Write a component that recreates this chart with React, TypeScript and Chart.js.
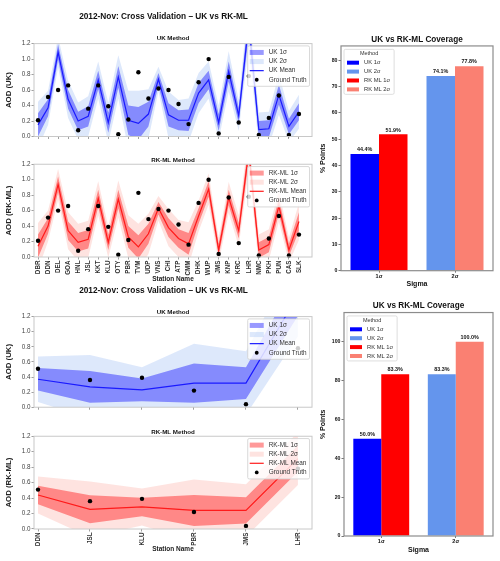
import React, { useEffect, useRef } from "react";
import { Chart, registerables } from "chart.js";

Chart.register(...registerables);

const FONT = "'Liberation Sans', Arial, Helvetica, sans-serif";

// ---------------- data ----------------
const suptitle = "2012-Nov: Cross Validation – UK vs RK-ML";

const stationsAll = ["DBR", "DDN", "DEL", "GOA", "HNL", "JSL", "KKT", "KLU", "OTY", "PBR", "TVM", "UDP", "VNS", "CHI", "ATP", "CMM", "DHK", "WUP", "JMS", "KNP", "KRC", "LHR", "NMC", "PKH", "PUN", "CAS", "SLK"];
const truthAll = [0.21, 0.51, 0.6, 0.66, 0.08, 0.36, 0.66, 0.39, 0.03, 0.22, 0.83, 0.49, 0.62, 0.6, 0.42, 0.16, 0.7, 1.0, 0.04, 0.77, 0.18, 0.78, 0.02, 0.24, 0.53, 0.02, 0.29];
const ukMeanAll = [0.15, 0.37, 1.09, 0.48, 0.2, 0.26, 0.73, 0.18, 0.77, 0.21, 0.17, 0.29, 0.74, 0.28, 0.21, 0.21, 0.56, 0.73, 0.18, 0.84, 0.27, 1.47, 0.09, 0.1, 0.54, 0.13, 0.32];
const ukSigmaAll = [0.15, 0.11, 0.1, 0.12, 0.12, 0.13, 0.12, 0.13, 0.14, 0.19, 0.21, 0.16, 0.08, 0.15, 0.13, 0.14, 0.13, 0.12, 0.11, 0.13, 0.1, 0.15, 0.11, 0.11, 0.13, 0.1, 0.11];
const rkMeanAll = [0.14, 0.4, 0.94, 0.34, 0.19, 0.23, 0.76, 0.19, 0.75, 0.26, 0.13, 0.3, 0.63, 0.38, 0.24, 0.17, 0.53, 0.88, 0.09, 0.77, 0.34, 1.37, 0.09, 0.16, 0.66, 0.09, 0.46];
const rkSigmaAll = [0.15, 0.1, 0.1, 0.12, 0.12, 0.12, 0.11, 0.1, 0.12, 0.14, 0.15, 0.13, 0.08, 0.12, 0.12, 0.14, 0.1, 0.1, 0.08, 0.1, 0.1, 0.12, 0.1, 0.1, 0.1, 0.08, 0.12];

const stationsSub = ["DDN", "JSL", "KLU", "PBR", "JMS", "LHR"];
const truthSub = [0.51, 0.36, 0.39, 0.22, 0.04, 0.78];
const ukMeanSub = [0.37, 0.27, 0.23, 0.32, 0.32, 1.48];
const ukSigmaSub = [0.15, 0.21, 0.15, 0.26, 0.21, 0.27];
const rkMeanSub = [0.44, 0.255, 0.285, 0.24, 0.24, 0.91];
const rkSigmaSub = [0.12, 0.18, 0.12, 0.2, 0.17, 0.17];

const ukLegend = ["UK 1σ", "UK 2σ", "UK Mean", "Ground Truth"];
const rkLegend = ["RK-ML 1σ", "RK-ML 2σ", "RK-ML Mean", "Ground Truth"];

const sigmaLabels = ["1σ", "2σ"];
const coverageSeries = ["UK 1σ", "UK 2σ", "RK ML 1σ", "RK ML 2σ"];
const coverageSigmaIndex = [0, 1, 0, 1];
const coverageAll = [44.4, 74.1, 51.9, 77.8];
const coverageSub = [50.0, 83.3, 83.3, 100.0];
const coverageColors = ["#0000ff", "#6495ed", "#ff0000", "#fa8072"];

// ---------------- plugins ----------------
const framePlugin = {
  id: "frame",
  afterDraw(chart: any, _a: any, o: any) {
    if (!o || !o.color) return;
    const { ctx, chartArea: a } = chart;
    ctx.save();
    ctx.strokeStyle = o.color;
    ctx.lineWidth = o.width;
    ctx.strokeRect(a.left, a.top, a.right - a.left, a.bottom - a.top);
    ctx.restore();
  },
};

const boxLegendPlugin = {
  id: "boxLegend",
  afterDraw(chart: any, _a: any, o: any) {
    if (!o || !o.items) return;
    const { ctx, chartArea: a } = chart;
    ctx.save();
    const font = `${o.fontSize}px ${FONT}`;
    ctx.font = font;
    let textW = 0;
    o.items.forEach((it: any) => {
      textW = Math.max(textW, ctx.measureText(it.label).width);
    });
    let titleW = 0;
    if (o.title) {
      ctx.font = `${o.titleSize}px ${FONT}`;
      titleW = ctx.measureText(o.title).width;
    }
    const w = Math.max(o.padL + o.handleW + o.gap + textW + o.padR, titleW + 2 * o.padL);
    const rows = o.items.length + (o.title ? 1 : 0);
    const h = o.padT + rows * o.rowH + o.padB;
    const x = o.corner === "right" ? a.right - o.inset - w : a.left + o.inset;
    const y = a.top + o.insetY;
    ctx.beginPath();
    if ((ctx as any).roundRect) (ctx as any).roundRect(x, y, w, h, 1.5);
    else ctx.rect(x, y, w, h);
    ctx.fillStyle = "rgba(255,255,255,0.8)";
    ctx.fill();
    ctx.strokeStyle = o.edge;
    ctx.lineWidth = 0.8;
    ctx.stroke();
    let cy = y + o.padT + o.rowH / 2;
    ctx.textBaseline = "middle";
    if (o.title) {
      ctx.font = `${o.titleSize}px ${FONT}`;
      ctx.textAlign = "center";
      ctx.fillStyle = o.textColor;
      ctx.fillText(o.title, x + w / 2, cy);
      cy += o.rowH;
    }
    ctx.font = font;
    ctx.textAlign = "left";
    o.items.forEach((it: any) => {
      const hx = x + o.padL;
      if (it.kind === "patch") {
        ctx.fillStyle = it.color;
        ctx.fillRect(hx, cy - o.handleH / 2, o.handleW, o.handleH);
      } else if (it.kind === "line") {
        ctx.strokeStyle = it.color;
        ctx.lineWidth = 1.2;
        ctx.beginPath();
        ctx.moveTo(hx, cy);
        ctx.lineTo(hx + o.handleW, cy);
        ctx.stroke();
      } else {
        ctx.fillStyle = it.color;
        ctx.beginPath();
        ctx.arc(hx + o.handleW / 2, cy, o.dotR, 0, Math.PI * 2);
        ctx.fill();
      }
      ctx.fillStyle = o.textColor;
      ctx.fillText(it.label, hx + o.handleW + o.gap, cy);
      cy += o.rowH;
    });
    ctx.restore();
  },
};

const valueLabelPlugin = {
  id: "valueLabels",
  afterDatasetsDraw(chart: any, _a: any, o: any) {
    if (!o || !o.display) return;
    const { ctx } = chart;
    ctx.save();
    ctx.font = `bold ${o.fontSize}px ${FONT}`;
    ctx.fillStyle = "#111";
    ctx.textAlign = "center";
    ctx.textBaseline = "bottom";
    chart.data.datasets.forEach((ds: any, i: number) => {
      const meta = chart.getDatasetMeta(i);
      meta.data.forEach((el: any, j: number) => {
        const v = ds.data[j];
        if (v == null) return;
        ctx.fillText(`${Number(v).toFixed(1)}%`, el.x, el.y - 1.5);
      });
    });
    ctx.restore();
  },
};

// ---------------- configs ----------------
const UK_COLORS = { band1: "rgba(0,0,255,0.4)", band2: "rgba(100,149,237,0.22)", line: "#1a1aff" };
const RK_COLORS = { band1: "rgba(255,0,0,0.4)", band2: "rgba(250,128,114,0.22)", line: "#ff1a1a" };

type LineSpec = {
  left: number; top: number; width: number; height: number;
  stations: string[]; truth: number[]; mean: number[]; sigma: number[];
  colors: { band1: string; band2: string; line: string };
  legend: string[]; yLabel: string;
  title?: string; titlePad?: { top: number; bottom: number };
  subtitle: string; subPad: { top: number; bottom: number };
  showLabels: boolean; xMin: number; xMax: number; xAxisH: number;
};

function lineConfig(s: LineSpec): any {
  const pts = (arr: number[]) => arr.map((v, i) => ({ x: i, y: v }));
  const lower2 = s.mean.map((m, i) => m - 2 * s.sigma[i]);
  const upper2 = s.mean.map((m, i) => m + 2 * s.sigma[i]);
  const lower1 = s.mean.map((m, i) => m - s.sigma[i]);
  const upper1 = s.mean.map((m, i) => m + s.sigma[i]);
  const hidden = { borderWidth: 0, borderColor: "transparent", pointRadius: 0, tension: 0, clip: 0 };
  return {
    type: "line",
    data: {
      datasets: [
        { label: s.legend[1] + " low", data: pts(lower2), order: 6, fill: false, ...hidden },
        { label: s.legend[1], data: pts(upper2), order: 5, fill: "-1", backgroundColor: s.colors.band2, ...hidden },
        { label: s.legend[0] + " low", data: pts(lower1), order: 4, fill: false, ...hidden },
        { label: s.legend[0], data: pts(upper1), order: 3, fill: "-1", backgroundColor: s.colors.band1, ...hidden },
        { label: s.legend[2], data: pts(s.mean), order: 2, fill: false, borderColor: s.colors.line, borderWidth: 1.2, pointRadius: 0, tension: 0, clip: 0 },
        { label: s.legend[3], data: pts(s.truth), order: 1, showLine: false, pointRadius: 2.2, pointBackgroundColor: "#000", pointBorderWidth: 0, borderColor: "#000", clip: false },
      ],
    },
    options: {
      responsive: false,
      animation: false,
      events: [],
      layout: { padding: 0 },
      plugins: {
        legend: { display: false },
        tooltip: { enabled: false },
        title: {
          display: !!s.title,
          text: s.title || "",
          font: { family: FONT, size: 8.3, weight: "bold" },
          color: "#111",
          padding: s.titlePad || { top: 0, bottom: 0 },
          fullSize: true,
        },
        subtitle: {
          display: true,
          text: s.subtitle,
          font: { family: FONT, size: 6.2, weight: "bold" },
          color: "#111",
          padding: s.subPad,
          fullSize: false,
        },
        frame: { color: "#c8c8c8", width: 1 },
        boxLegend: {
          items: [
            { label: s.legend[0], kind: "patch", color: s.colors.band1 },
            { label: s.legend[1], kind: "patch", color: s.colors.band2 },
            { label: s.legend[2], kind: "line", color: s.colors.line },
            { label: s.legend[3], kind: "dot", color: "#000" },
          ],
          corner: "right", inset: 2.5, insetY: 2.3,
          fontSize: 6.4, padL: 2, handleW: 14, handleH: 5, gap: 5, padR: 3,
          padT: 2, rowH: 9.1, padB: 2, dotR: 1.9, edge: "#cfcfcf", textColor: "#333",
        },
      },
      scales: {
        x: {
          type: "linear",
          min: s.xMin,
          max: s.xMax,
          afterBuildTicks: (sc: any) => {
            sc.ticks = s.stations.map((_, i) => ({ value: i }));
          },
          ticks: {
            display: s.showLabels,
            autoSkip: false,
            maxRotation: 90,
            minRotation: 90,
            padding: 1,
            font: { family: FONT, size: 6.3, weight: "bold" },
            color: "#333",
            callback: (v: any) => s.stations[Math.round(Number(v))] ?? "",
          },
          grid: { display: true, drawOnChartArea: false, drawTicks: true, tickLength: 2.5, color: "#a0a0a0" },
          border: { display: false },
          title: {
            display: s.showLabels,
            text: "Station Name",
            font: { family: FONT, size: 6.5, weight: "bold" },
            color: "#222",
            padding: { top: 0, bottom: 2.1 },
          },
          afterFit: (sc: any) => {
            sc.height = s.xAxisH;
          },
        },
        y: {
          min: 0,
          max: 1.2,
          ticks: {
            stepSize: 0.2,
            includeBounds: false,
            padding: 1,
            font: { family: FONT, size: 6.3 },
            color: "#444",
            callback: (v: any) => Number(v).toFixed(1),
          },
          grid: { display: true, drawOnChartArea: false, drawTicks: true, tickLength: 2.5, color: "#a0a0a0" },
          border: { display: false },
          title: {
            display: true,
            text: s.yLabel,
            font: { family: FONT, size: 7.8, weight: "bold" },
            color: "#222",
            padding: { top: 4.6, bottom: 0 },
          },
          afterFit: (sc: any) => {
            sc.width = 34;
          },
        },
        yR: {
          position: "right",
          display: true,
          grid: { display: false },
          border: { display: false },
          ticks: { display: false },
          afterFit: (sc: any) => {
            sc.width = 15;
          },
        },
      },
    },
    plugins: [framePlugin, boxLegendPlugin],
  };
}

type BarSpec = {
  left: number; top: number; width: number; height: number;
  values: number[]; ymax: number; step: number;
  yAxisW: number; padRight: number; titlePad: { top: number; bottom: number };
  xAxisH: number; sigmaPadBottom: number;
};

function barConfig(s: BarSpec): any {
  return {
    type: "bar",
    data: {
      labels: sigmaLabels,
      datasets: coverageSeries.map((name, i) => ({
        label: name,
        data: sigmaLabels.map((_, c) => (c === coverageSigmaIndex[i] ? s.values[i] : null)),
        backgroundColor: coverageColors[i],
        borderWidth: 0,
        skipNull: true,
        categoryPercentage: 0.75,
        barPercentage: 1,
      })),
    },
    options: {
      responsive: false,
      animation: false,
      events: [],
      layout: { padding: { left: 0, right: s.padRight, top: 0, bottom: 0 } },
      plugins: {
        legend: { display: false },
        tooltip: { enabled: false },
        title: {
          display: true,
          text: "UK vs RK-ML Coverage",
          font: { family: FONT, size: 8.2, weight: "bold" },
          color: "#111",
          padding: s.titlePad,
          fullSize: false,
        },
        frame: { color: "#8c8c8c", width: 1.2 },
        valueLabels: { display: true, fontSize: 5.4 },
        boxLegend: {
          title: "Method",
          titleSize: 5.5,
          items: coverageSeries.map((name, i) => ({ label: name, kind: "patch", color: coverageColors[i] })),
          corner: "left", inset: 3, insetY: 3.4,
          fontSize: 5.8, padL: 3, handleW: 12, handleH: 4, gap: 5, padR: 4,
          padT: 0, rowH: 8.9, padB: 0.5, dotR: 1.5, edge: "#d6d6d6", textColor: "#333",
        },
      },
      scales: {
        x: {
          type: "category",
          offset: true,
          grid: { display: true, drawOnChartArea: false, drawTicks: true, tickLength: 2, color: "#777", offset: false },
          border: { display: false },
          ticks: { padding: 0.3, font: { family: FONT, size: 5.5, weight: "bold" }, color: "#111" },
          title: {
            display: true,
            text: "Sigma",
            font: { family: FONT, size: 7, weight: "bold" },
            color: "#111",
            padding: { top: 0, bottom: s.sigmaPadBottom },
          },
          afterFit: (sc: any) => {
            sc.height = s.xAxisH;
          },
        },
        y: {
          min: 0,
          max: s.ymax,
          ticks: {
            stepSize: s.step,
            includeBounds: false,
            padding: 1,
            font: { family: FONT, size: 5.2, weight: "bold" },
            color: "#111",
          },
          grid: { display: true, drawOnChartArea: false, drawTicks: true, tickLength: 2.5, color: "#777" },
          border: { display: false },
          title: {
            display: true,
            text: "% Points",
            font: { family: FONT, size: 7, weight: "bold" },
            color: "#111",
            padding: { top: 5.1, bottom: 0 },
          },
          afterFit: (sc: any) => {
            sc.width = s.yAxisW;
          },
        },
      },
    },
    plugins: [framePlugin, valueLabelPlugin, boxLegendPlugin],
  };
}

// ---------------- panels ----------------
const panelA: LineSpec = {
  left: 0, top: 8, width: 327, height: 134,
  stations: stationsAll, truth: truthAll, mean: ukMeanAll, sigma: ukSigmaAll,
  colors: UK_COLORS, legend: ukLegend, yLabel: "AOD (UK)",
  title: suptitle, titlePad: { top: 4, bottom: 10 },
  subtitle: "UK Method", subPad: { top: 2.8, bottom: 1.4 },
  showLabels: false, xMin: -0.4, xMax: 27.3, xAxisH: 5.5,
};
const panelB: LineSpec = {
  left: 0, top: 150, width: 327, height: 135,
  stations: stationsAll, truth: truthAll, mean: rkMeanAll, sigma: rkSigmaAll,
  colors: RK_COLORS, legend: rkLegend, yLabel: "AOD (RK-ML)",
  subtitle: "RK-ML Method", subPad: { top: 6.4, bottom: 0.4 },
  showLabels: true, xMin: -0.4, xMax: 27.3, xAxisH: 28,
};
const panelC: LineSpec = {
  left: 0, top: 281, width: 327, height: 131,
  stations: stationsSub, truth: truthSub, mean: ukMeanSub, sigma: ukSigmaSub,
  colors: UK_COLORS, legend: ukLegend, yLabel: "AOD (UK)",
  title: suptitle, titlePad: { top: 5.2, bottom: 10 },
  subtitle: "UK Method", subPad: { top: 2.6, bottom: 0.4 },
  showLabels: false, xMin: -0.077, xMax: 5.27, xAxisH: 4,
};
const panelD: LineSpec = {
  left: 0, top: 424, width: 327, height: 131,
  stations: stationsSub, truth: truthSub, mean: rkMeanSub, sigma: rkSigmaSub,
  colors: RK_COLORS, legend: rkLegend, yLabel: "AOD (RK-ML)",
  subtitle: "RK-ML Method", subPad: { top: 4.4, bottom: 0.4 },
  showLabels: true, xMin: -0.077, xMax: 5.27, xAxisH: 26,
};
const panelE: BarSpec = {
  left: 314, top: 30, width: 186, height: 260,
  values: coverageAll, ymax: 85.5, step: 10,
  yAxisW: 27, padRight: 7, titlePad: { top: 5.2, bottom: 0.9 },
  xAxisH: 19.3, sigmaPadBottom: 1.8,
};
const panelF: BarSpec = {
  left: 314, top: 296, width: 186, height: 262,
  values: coverageSub, ymax: 115, step: 20,
  yAxisW: 30, padRight: 7, titlePad: { top: 4.9, bottom: 1.8 },
  xAxisH: 22, sigmaPadBottom: 3.8,
};

function ChartCanvas(props: { box: { left: number; top: number; width: number; height: number }; make: () => any }) {
  const ref = useRef<HTMLCanvasElement>(null);
  useEffect(() => {
    if (!ref.current) return;
    const chart = new Chart(ref.current, props.make());
    return () => chart.destroy();
  }, []);
  const { left, top, width, height } = props.box;
  return (
    <canvas
      ref={ref}
      width={width}
      height={height}
      style={{ position: "absolute", left, top, width, height }}
    />
  );
}

export default function App() {
  return (
    <div
      style={{
        position: "absolute",
        left: 0,
        top: 0,
        width: 500,
        height: 561,
        background: "#ffffff",
        overflow: "hidden",
      }}
    >
      <ChartCanvas box={panelA} make={() => lineConfig(panelA)} />
      <ChartCanvas box={panelB} make={() => lineConfig(panelB)} />
      <ChartCanvas box={panelC} make={() => lineConfig(panelC)} />
      <ChartCanvas box={panelD} make={() => lineConfig(panelD)} />
      <ChartCanvas box={panelE} make={() => barConfig(panelE)} />
      <ChartCanvas box={panelF} make={() => barConfig(panelF)} />
    </div>
  );
}
